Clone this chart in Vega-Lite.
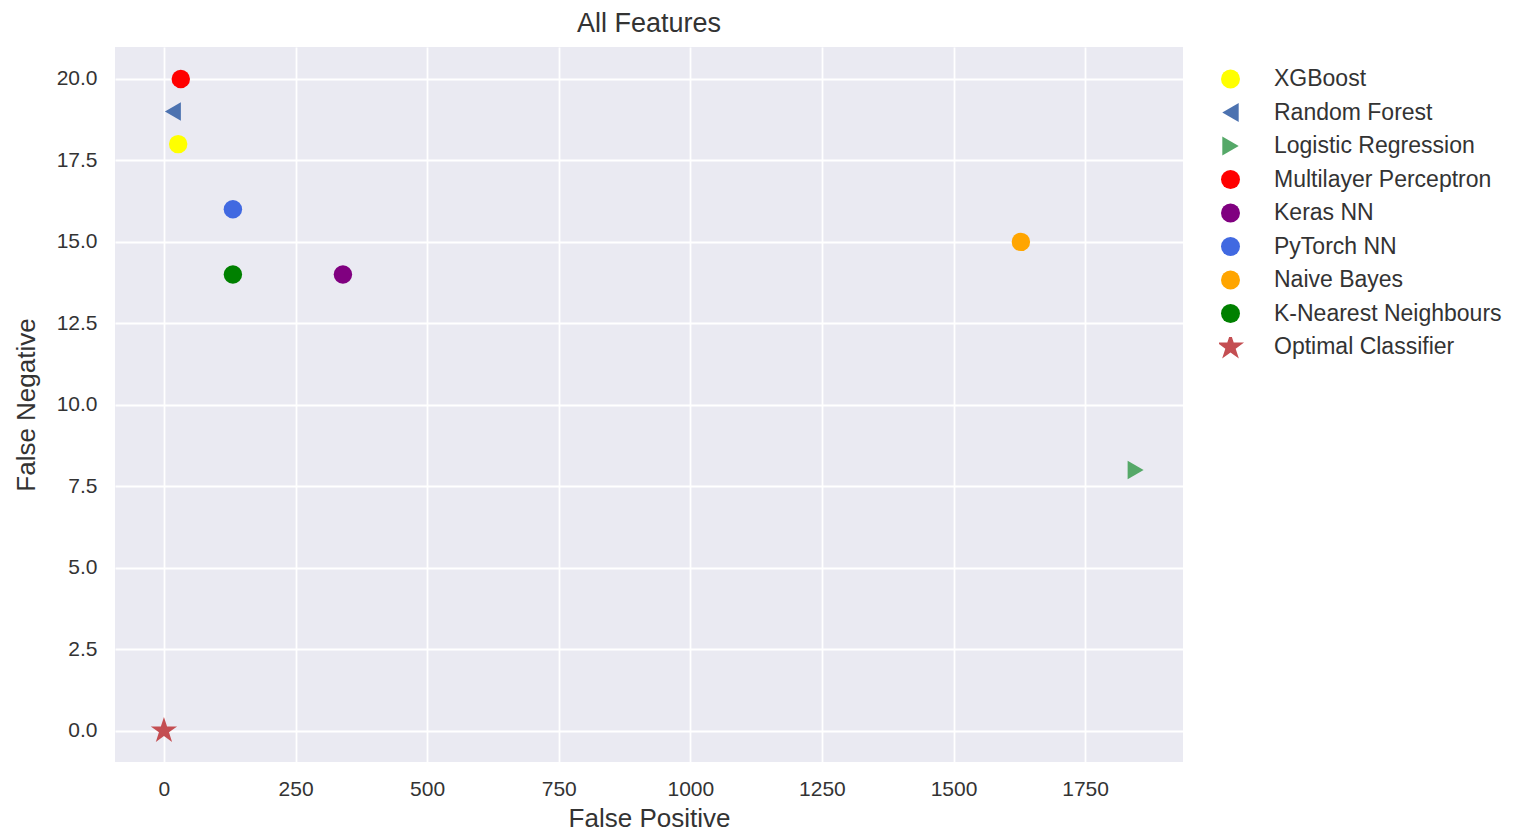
{
  "$schema": "https://vega.github.io/schema/vega-lite/v6.json",
  "width": 1068,
  "height": 715,
  "autosize": {"type": "none"},
  "padding": {"left": 115, "top": 47, "right": 333, "bottom": 71},
  "background": "white",
  "title": {"text": "All Features", "fontSize": 27, "font": "Liberation Sans", "fontWeight": "normal", "color": "#333333", "offset": 9},
  "config": {
    "view": {"fill": "#eaeaf2", "stroke": null},
    "axis": {"grid": true, "gridColor": "white", "gridWidth": 1.8, "domain": false, "ticks": false, "labelFont": "Liberation Sans", "labelFontSize": 21, "labelColor": "#333333", "titleFont": "Liberation Sans", "titleFontSize": 26, "titleFontWeight": "normal", "titleColor": "#333333"}
  },
  "data": {"values": [
    {"model": "XGBoost", "fp": 27, "fn": 18},
    {"model": "Random Forest", "fp": 17, "fn": 19},
    {"model": "Logistic Regression", "fp": 1846, "fn": 8},
    {"model": "Multilayer Perceptron", "fp": 32, "fn": 20},
    {"model": "Keras NN", "fp": 340, "fn": 14},
    {"model": "PyTorch NN", "fp": 131, "fn": 16},
    {"model": "Naive Bayes", "fp": 1628, "fn": 15},
    {"model": "K-Nearest Neighbours", "fp": 131, "fn": 14},
    {"model": "Optimal Classifier", "fp": 0, "fn": 0}
  ]},
  "mark": {"type": "point", "filled": true, "opacity": 1, "size": 340},
  "encoding": {
    "x": {"field": "fp", "type": "quantitative", "title": "False Positive", "scale": {"domain": [-93, 1936], "nice": false, "zero": false}, "axis": {"values": [0, 250, 500, 750, 1000, 1250, 1500, 1750], "format": "d", "labelPadding": 16, "titlePadding": 6}},
    "y": {"field": "fn", "type": "quantitative", "title": "False Negative", "scale": {"domain": [-0.96, 20.98], "nice": false, "zero": false}, "axis": {"values": [0, 2.5, 5, 7.5, 10, 12.5, 15, 17.5, 20], "format": ".1f", "labelPadding": 18, "titlePadding": 17}},
    "color": {"field": "model", "type": "nominal", "scale": {
      "domain": ["XGBoost", "Random Forest", "Logistic Regression", "Multilayer Perceptron", "Keras NN", "PyTorch NN", "Naive Bayes", "K-Nearest Neighbours", "Optimal Classifier"],
      "range": ["#ffff00", "#4c72b0", "#55a868", "#ff0000", "#800080", "#4169e1", "#ffa500", "#008000", "#c44e52"]},
      "legend": {"title": null, "orient": "none", "legendX": 1104, "legendY": 22, "labelFont": "Liberation Sans", "labelFontSize": 23, "labelColor": "#333333", "labelLimit": 400, "symbolSize": 360, "clipHeight": 20, "rowPadding": 10.5, "labelOffset": 32, "symbolOpacity": 1}},
    "shape": {"field": "model", "type": "nominal", "scale": {
      "domain": ["XGBoost", "Random Forest", "Logistic Regression", "Multilayer Perceptron", "Keras NN", "PyTorch NN", "Naive Bayes", "K-Nearest Neighbours", "Optimal Classifier"],
      "range": ["circle", "triangle-left", "triangle-right", "circle", "circle", "circle", "circle", "circle", "M0,-1.5L0.337,-0.464L1.427,-0.464L0.545,0.177L0.882,1.214L0,0.573L-0.882,1.214L-0.545,0.177L-1.427,-0.464L-0.337,-0.464Z"]},
      "legend": null}
  }
}
